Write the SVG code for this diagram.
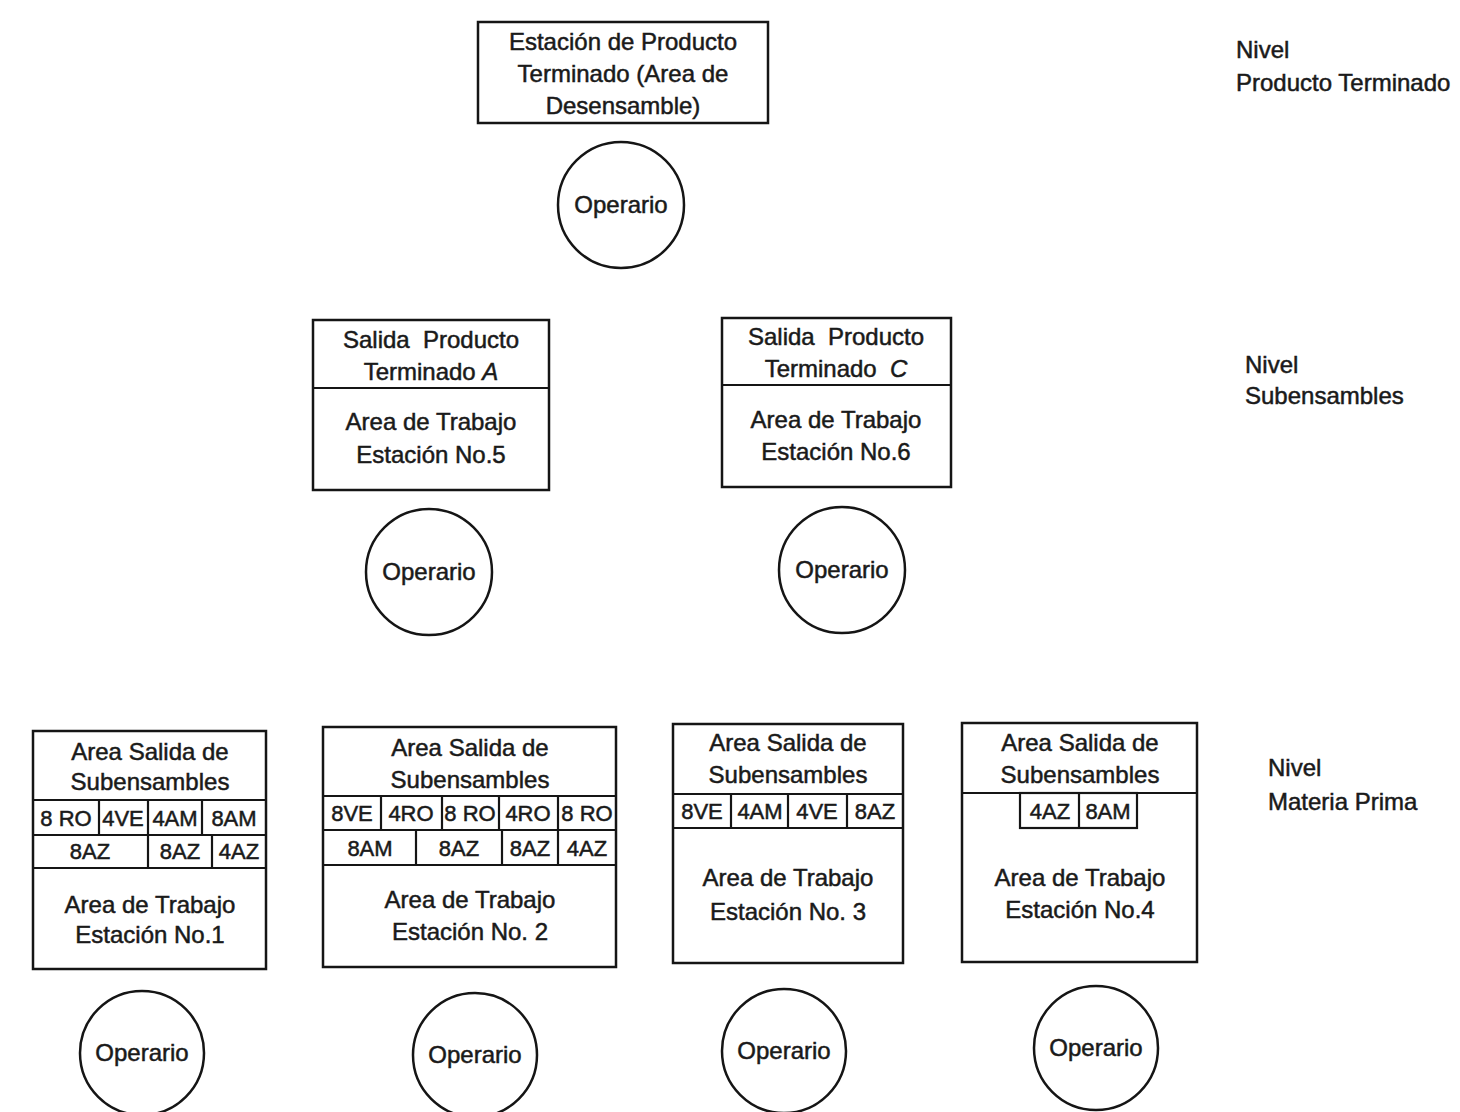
<svg xmlns="http://www.w3.org/2000/svg" width="1460" height="1112" viewBox="0 0 1460 1112">
<style>
.b{fill:#fff;stroke:#151515;stroke-width:2.5}
.l{fill:none;stroke:#151515;stroke-width:2.2}
.c{fill:#fff;stroke:#151515;stroke-width:2.5}
text{font-family:"Liberation Sans",Arial,sans-serif;font-size:24px;fill:#1a1a1a;stroke:#1a1a1a;stroke-width:0.5;text-anchor:middle}
.s{font-size:22px}
.lab{text-anchor:start}
</style>
<rect width="1460" height="1112" fill="#fff"/>
<g id="connectors"/>
<g id="top-station">
<rect class="b" x="478" y="22" width="290" height="101"/>
<text x="623" y="50">Estación de Producto</text>
<text x="623" y="82">Terminado (Area de</text>
<text x="623" y="114">Desensamble)</text>
</g>
<g id="op-top"><circle class="c" cx="621" cy="205" r="63"/><text x="621" y="213">Operario</text></g>
<g id="station5">
<rect class="b" x="313" y="320" width="236" height="170"/>
<line class="l" x1="313" y1="388" x2="549" y2="388"/>
<text x="431" y="348" xml:space="preserve">Salida  Producto</text>
<text x="431" y="380">Terminado <tspan font-style="italic">A</tspan></text>
<text x="431" y="430">Area de Trabajo</text>
<text x="431" y="463">Estación No.5</text>
</g>
<g id="station6">
<rect class="b" x="722" y="318" width="229" height="169"/>
<line class="l" x1="722" y1="385" x2="951" y2="385"/>
<text x="836" y="345" xml:space="preserve">Salida  Producto</text>
<text x="836" y="377" xml:space="preserve">Terminado  <tspan font-style="italic">C</tspan></text>
<text x="836" y="428">Area de Trabajo</text>
<text x="836" y="460">Estación No.6</text>
</g>
<g id="op5"><circle class="c" cx="429" cy="572" r="63"/><text x="429" y="580">Operario</text></g>
<g id="op6"><circle class="c" cx="842" cy="570" r="63"/><text x="842" y="578">Operario</text></g>
<g id="station1">
<rect class="b" x="33" y="731" width="233" height="238"/>
<line class="l" x1="33" y1="800" x2="266" y2="800"/>
<line class="l" x1="33" y1="835" x2="266" y2="835"/>
<line class="l" x1="33" y1="868" x2="266" y2="868"/>
<line class="l" x1="99" y1="800" x2="99" y2="835"/>
<line class="l" x1="148" y1="800" x2="148" y2="868"/>
<line class="l" x1="202" y1="800" x2="202" y2="835"/>
<line class="l" x1="212" y1="835" x2="212" y2="868"/>
<text x="150" y="760">Area Salida de</text>
<text x="150" y="790">Subensambles</text>
<text class="s" x="66" y="826">8 RO</text>
<text class="s" x="123" y="826">4VE</text>
<text class="s" x="175" y="826">4AM</text>
<text class="s" x="234" y="826">8AM</text>
<text class="s" x="90" y="859">8AZ</text>
<text class="s" x="180" y="859">8AZ</text>
<text class="s" x="239" y="859">4AZ</text>
<text x="150" y="913">Area de Trabajo</text>
<text x="150" y="943">Estación No.1</text>
</g>
<g id="station2">
<rect class="b" x="323" y="727" width="293" height="240"/>
<line class="l" x1="323" y1="796" x2="616" y2="796"/>
<line class="l" x1="323" y1="830" x2="616" y2="830"/>
<line class="l" x1="323" y1="865" x2="616" y2="865"/>
<line class="l" x1="381" y1="796" x2="381" y2="830"/>
<line class="l" x1="442" y1="796" x2="442" y2="830"/>
<line class="l" x1="499" y1="796" x2="499" y2="830"/>
<line class="l" x1="558" y1="796" x2="558" y2="865"/>
<line class="l" x1="416" y1="830" x2="416" y2="865"/>
<line class="l" x1="502" y1="830" x2="502" y2="865"/>
<text x="470" y="756">Area Salida de</text>
<text x="470" y="788">Subensambles</text>
<text class="s" x="352" y="821">8VE</text>
<text class="s" x="411" y="821">4RO</text>
<text class="s" x="470" y="821">8 RO</text>
<text class="s" x="528" y="821">4RO</text>
<text class="s" x="587" y="821">8 RO</text>
<text class="s" x="370" y="856">8AM</text>
<text class="s" x="459" y="856">8AZ</text>
<text class="s" x="530" y="856">8AZ</text>
<text class="s" x="587" y="856">4AZ</text>
<text x="470" y="908">Area de Trabajo</text>
<text x="470" y="940">Estación No. 2</text>
</g>
<g id="station3">
<rect class="b" x="673" y="724" width="230" height="239"/>
<line class="l" x1="673" y1="794" x2="903" y2="794"/>
<line class="l" x1="673" y1="828" x2="903" y2="828"/>
<line class="l" x1="731" y1="794" x2="731" y2="828"/>
<line class="l" x1="788" y1="794" x2="788" y2="828"/>
<line class="l" x1="847" y1="794" x2="847" y2="828"/>
<text x="788" y="751">Area Salida de</text>
<text x="788" y="783">Subensambles</text>
<text class="s" x="702" y="819">8VE</text>
<text class="s" x="760" y="819">4AM</text>
<text class="s" x="817" y="819">4VE</text>
<text class="s" x="875" y="819">8AZ</text>
<text x="788" y="886">Area de Trabajo</text>
<text x="788" y="920">Estación No. 3</text>
</g>
<g id="station4">
<rect class="b" x="962" y="723" width="235" height="239"/>
<line class="l" x1="962" y1="793" x2="1197" y2="793"/>
<rect class="l" x="1020" y="793" width="117" height="35"/>
<line class="l" x1="1079" y1="793" x2="1079" y2="828"/>
<text x="1080" y="751">Area Salida de</text>
<text x="1080" y="783">Subensambles</text>
<text class="s" x="1050" y="819">4AZ</text>
<text class="s" x="1108" y="819">8AM</text>
<text x="1080" y="886">Area de Trabajo</text>
<text x="1080" y="918">Estación No.4</text>
</g>
<g id="op1"><circle class="c" cx="142" cy="1053" r="62"/><text x="142" y="1061">Operario</text></g>
<g id="op2"><circle class="c" cx="475" cy="1055" r="62"/><text x="475" y="1063">Operario</text></g>
<g id="op3"><circle class="c" cx="784" cy="1051" r="62"/><text x="784" y="1059">Operario</text></g>
<g id="op4"><circle class="c" cx="1096" cy="1048" r="62"/><text x="1096" y="1056">Operario</text></g>
<g id="level-labels">
<text class="lab" x="1236" y="58">Nivel</text>
<text class="lab" x="1236" y="91">Producto Terminado</text>
<text class="lab" x="1245" y="373">Nivel</text>
<text class="lab" x="1245" y="404">Subensambles</text>
<text class="lab" x="1268" y="776">Nivel</text>
<text class="lab" x="1268" y="810">Materia Prima</text>
</g>
</svg>
